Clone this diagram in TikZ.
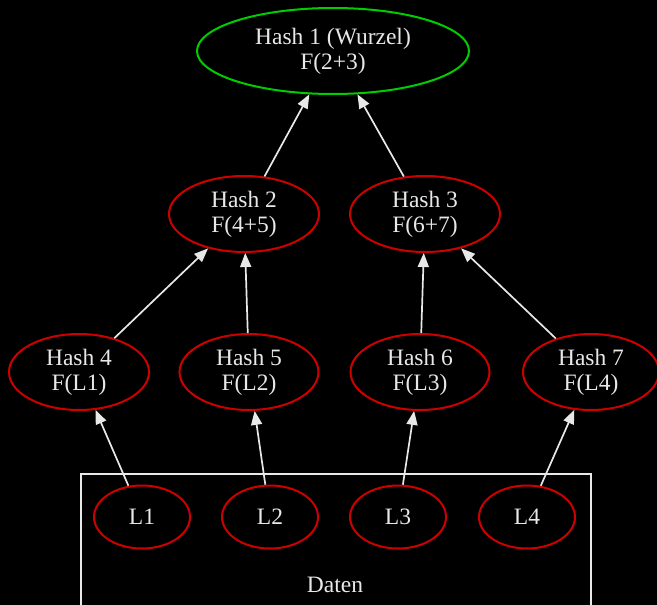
\documentclass[tikz,border=0pt]{standalone}
\usepackage{fontspec}
\setmainfont{Liberation Serif}
\usetikzlibrary{shapes.geometric,arrows.meta}
\definecolor{hashred}{HTML}{CD0000}
\definecolor{rootgreen}{HTML}{00CD00}
\definecolor{ink}{HTML}{E8E8E8}
\begin{document}
\begin{tikzpicture}[x=1pt,y=-1pt,
  every node/.style={text=ink, font=\fontsize{23.5}{25}\selectfont, align=center, inner sep=0pt},
  rootnode/.style={ellipse, draw=rootgreen, line width=2pt, minimum width=272pt, minimum height=86pt},
  hashnode/.style={ellipse, draw=hashred, line width=2pt, minimum width=140pt, minimum height=76pt},
  leafnode/.style={ellipse, draw=hashred, line width=2pt, minimum width=96pt, minimum height=63pt},
  databox/.style={rectangle, draw=ink, line width=1.8pt, anchor=north west, minimum width=510pt, minimum height=160pt},
  link/.style={draw=ink, line width=1.7pt, -{Triangle[length=14pt,width=11pt]}}
]
% background and frame
\fill[black] (0,0) rectangle (657,605);
\useasboundingbox (0,0) rectangle (657,605);
\clip (0,0) rectangle (657,605);

% cluster holding the data blocks
\node[databox] (box) at (80,473) {};
\node (daten) at (335,585) {Daten};

% tree of hashes
\node[rootnode] (h1) at (333,51) {Hash 1 (Wurzel)\\F(2+3)};
\node[hashnode, minimum width=150pt] (h2) at (244,214) {Hash 2\\F(4+5)};
\node[hashnode, minimum width=150pt] (h3) at (425,214) {Hash 3\\F(6+7)};
\node[hashnode] (h4) at (79,372) {Hash 4\\F(L1)};
\node[hashnode, minimum width=139pt] (h5) at (249,372) {Hash 5\\F(L2)};
\node[hashnode, minimum width=139pt] (h6) at (420,372) {Hash 6\\F(L3)};
\node[hashnode, minimum width=136pt] (h7) at (591,372) {Hash 7\\F(L4)};

% data blocks
\node[leafnode] (l1) at (142,517) {L1};
\node[leafnode] (l2) at (270,517) {L2};
\node[leafnode] (l3) at (398,517) {L3};
\node[leafnode] (l4) at (527,517) {L4};

% edges point from child to parent
\draw[link] (h2) -- (h1);
\draw[link] (h3) -- (h1);
\draw[link] (h4) -- (h2);
\draw[link] (h5) -- (h2);
\draw[link] (h6) -- (h3);
\draw[link] (h7) -- (h3);
\draw[link] (l1) -- (h4);
\draw[link] (l2) -- (h5);
\draw[link] (l3) -- (h6);
\draw[link] (l4) -- (h7);
\end{tikzpicture}
\end{document}
